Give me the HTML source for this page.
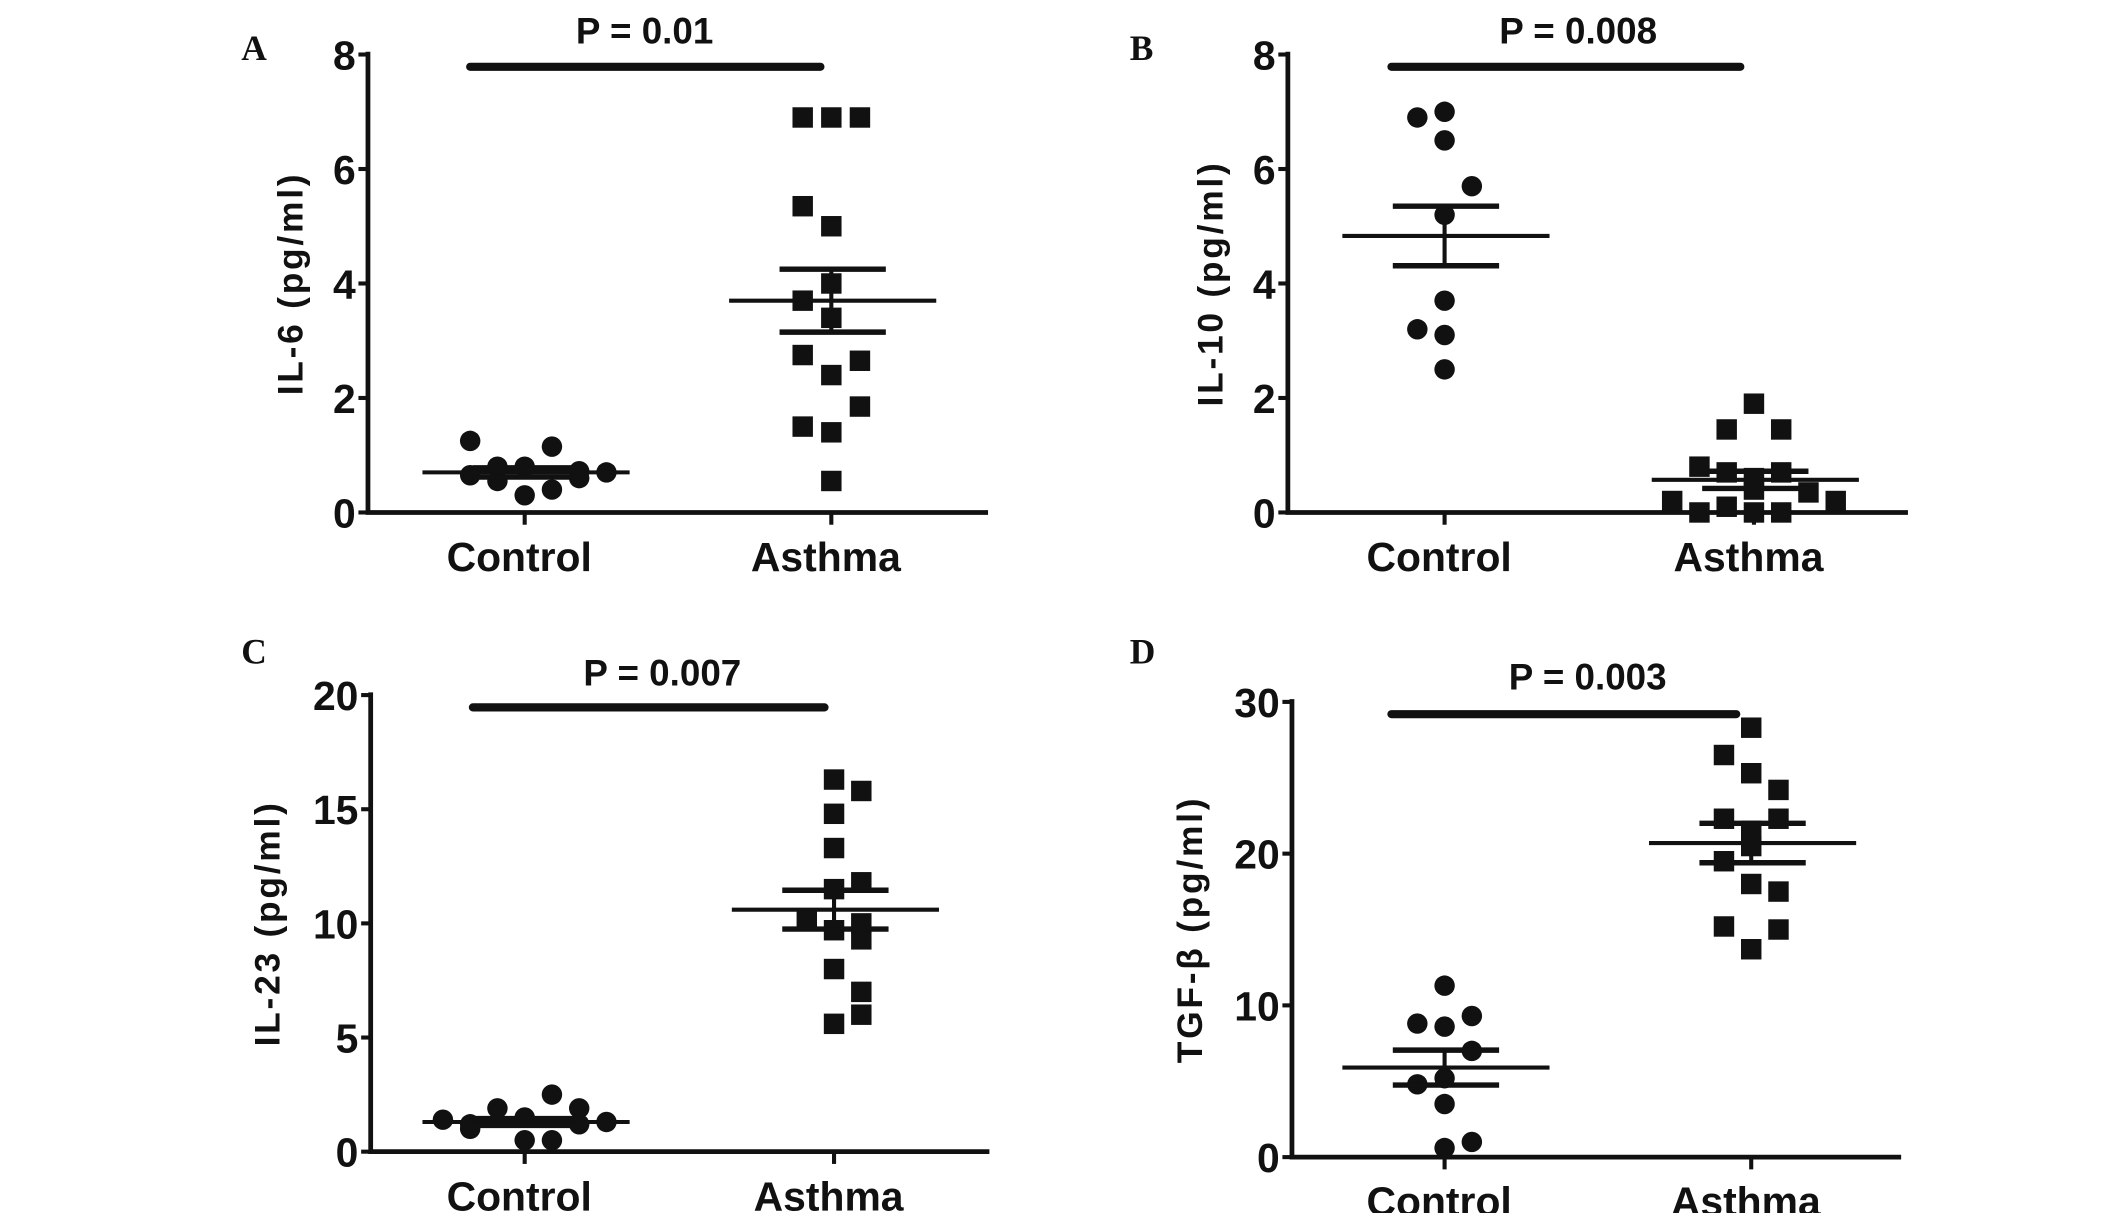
<!DOCTYPE html>
<html><head><meta charset="utf-8">
<style>
html,body{margin:0;padding:0;background:#fff;}
svg{display:block;}
text{font-family:"Liberation Sans",Arial,sans-serif;font-weight:bold;fill:#111;}
</style></head>
<body>
<svg id="fig" width="2126" height="1213" viewBox="0 0 1560 890" preserveAspectRatio="none" xmlns="http://www.w3.org/2000/svg"></svg>
<script>
// Panel A: IL-6
const aCtrl = [1.25,1.15,0.65,0.8,0.8,0.55,0.6,0.7,0.3,0.4,0.72];
const aCtrlJit = [-2,1,-2,-1,0,-1,2,3,0,1,2];
const aAsth = [6.9,6.9,6.9,5.35,5.0,4.0,3.7,3.4,2.75,2.65,2.4,1.85,1.5,1.4,0.55];
const aAsthJit = [-1,0,1,-1,0,0,-1,0,-1,1,0,1,-1,0,0];
const aStats = [0.7,0.08,3.7,0.55];
// Panel B: IL-10
const bCtrl = [6.9,7.0,6.5,5.7,5.2,3.7,3.2,3.1,2.5];
const bCtrlJit = [-1,0,0,1,0,0,-1,0,0];
const bAsth = [1.9,1.45,1.45,0.8,0.7,0.6,0.7,0.4,0.2,0.2,0.1,0.0,0.0,0.0,0.35];
const bAsthJit = [0,-1,1,-2,-1,0,1,0,-3,3,-1,-2,0,1,2];
const bStats = [4.83,0.52,0.57,0.15];
// Panel C: IL-23
const cCtrl = [2.5,1.9,1.9,1.4,1.2,0.5,0.5,1.3,1.0,1.5,1.2];
const cCtrlJit = [1,-1,2,-3,-2,0,1,3,-2,0,2];
const cAsth = [16.3,15.8,14.8,13.3,11.8,11.5,10.2,10.0,9.7,9.3,8.0,7.0,6.0,5.6];
const cAsthJit = [0,1,0,0,1,0,-1,1,0,1,0,1,1,0];
const cStats = [1.3,0.15,10.6,0.85];
// Panel D: TGF-beta
const dCtrl = [11.3,9.3,8.8,8.6,7.0,5.2,4.8,3.5,1.0,0.6];
const dCtrlJit = [0,1,-1,0,1,0,-1,0,1,0];
const dAsth = [28.3,26.5,25.3,24.2,22.3,22.3,20.5,18.0,17.5,15.2,15.0,13.7,19.5,21.5];
const dAsthJit = [0,-1,0,1,-1,1,0,0,1,-1,1,0,-1,0];
const dStats = [5.9,1.15,20.7,1.3];
const categories = ["Control","Asthma"];
const yTicksA = [0,2,4,6,8], yTicksC = [0,5,10,15,20], yTicksD = [0,10,20,30];

const NS="http://www.w3.org/2000/svg";
const svg=document.getElementById('fig');
function mk(tag,attrs,parent){const e=document.createElementNS(NS,tag);for(const k in attrs)e.setAttribute(k,attrs[k]);(parent||svg).appendChild(e);return e;}

function panel(p){
  const g=mk('g',{});
  
  
  const y=v=>p.y0+(p.yTop-p.y0)*v/p.max;
  const ax=mk('path',{d:`M${p.ax} ${p.yTop-2} L${p.ax} ${p.y0} L${p.xEnd} ${p.y0}`,stroke:'#111','stroke-width':3.5,fill:'none'},g);
  
  
  p.ticks.forEach(t=>{
    mk('line',{x1:p.ax-7,x2:p.ax,y1:y(t),y2:y(t),stroke:'#111','stroke-width':3},g);
    const tx=mk('text',{x:p.ax-9,y:y(t)+11,'text-anchor':'end','font-size':30},g);
    tx.textContent=t;
    
    
  });
  [p.cx0,p.cx1].forEach((cx,i)=>{
    mk('line',{x1:cx,x2:cx,y1:p.y0,y2:p.y0+9,stroke:'#111','stroke-width':3},g);
    const tx=mk('text',{x:cx-4,y:p.y0+43,'text-anchor':'middle','font-size':30,'font-weight':'bold'},g);
    tx.textContent=categories[i];
    
    
  });
  const yt=mk('text',{x:0,y:0,'text-anchor':'middle','font-size':26,'letter-spacing':2,transform:`translate(${p.titleX},${(p.yTop+p.y0)/2}) rotate(-90)`},g);
  yt.textContent=p.title;
  
  
  const pl=mk('text',{x:p.lx,y:p.ly,'font-size':26,style:'font-family:"Liberation Serif",serif'},g);
  pl.textContent=p.id;
  
  
  const pt=mk('text',{x:p.pcx,y:p.py,'text-anchor':'middle','font-size':27},g);
  pt.textContent=p.ptext;
  
  
  const br=mk('line',{x1:p.b0,x2:p.b1,y1:p.by,y2:p.by,stroke:'#111','stroke-width':6,'stroke-linecap':'round'},g);
  
  
  p.ctrl.forEach((v,i)=>{
    const c=mk('circle',{cx:p.cx0+p.cj[i]*p.sp,cy:y(v),r:7.5,fill:'#111'},g);
    
    
  });
  p.asth.forEach((v,i)=>{
    const s=mk('rect',{x:p.cx1+p.aj[i]*p.sp2-7.5,y:y(v)-7.5,width:15,height:15,fill:'#111'},g);
    
    
  });
  const st=p.stats;
  [[p.cx0,st[0],st[1]],[p.cx1,st[2],st[3]]].forEach(([cx,m,s])=>{
    const ml=mk('line',{x1:cx-75,x2:cx+77,y1:y(m),y2:y(m),stroke:'#111','stroke-width':3},g);
    
    
    mk('line',{x1:cx,x2:cx,y1:y(m+s),y2:y(m-s),stroke:'#111','stroke-width':3},g);
    [m+s,m-s].forEach(v=>{
      const e=mk('line',{x1:cx-38,x2:cx+40,y1:y(v),y2:y(v),stroke:'#111','stroke-width':4},g);
      
      
    });
  });
}
panel({id:'A',ax:270,yTop:40,y0:376,xEnd:725,max:8,ticks:yTicksA,cx0:385,cx1:610,title:'IL-6 (pg/ml)',titleX:222,lx:177,ly:44,ptext:'P = 0.01',pcx:473,py:32,b0:345,b1:602,by:49,ctrl:aCtrl,cj:aCtrlJit,asth:aAsth,aj:aAsthJit,sp:20,sp2:21,stats:aStats});
panel({id:'B',ax:945,yTop:40,y0:376,xEnd:1400,max:8,ticks:yTicksA,cx0:1060,cx1:1287,title:'IL-10 (pg/ml)',titleX:897,lx:829,ly:44,ptext:'P = 0.008',pcx:1158,py:32,b0:1021,b1:1277,by:49,ctrl:bCtrl,cj:bCtrlJit,asth:bAsth,aj:bAsthJit,sp:20,sp2:20,stats:bStats});
panel({id:'C',ax:272,yTop:510,y0:845,xEnd:726,max:20,ticks:yTicksC,cx0:385,cx1:612,title:'IL-23 (pg/ml)',titleX:205,lx:177,ly:487,ptext:'P = 0.007',pcx:486,py:503,b0:347,b1:605,by:519,ctrl:cCtrl,cj:cCtrlJit,asth:cAsth,aj:cAsthJit,sp:20,sp2:20,stats:cStats});
panel({id:'D',ax:948,yTop:515,y0:849,xEnd:1395,max:30,ticks:yTicksD,cx0:1060,cx1:1285,title:'TGF-β (pg/ml)',titleX:882,lx:829,ly:487,ptext:'P = 0.003',pcx:1165,py:506,b0:1021,b1:1274,by:524,ctrl:dCtrl,cj:dCtrlJit,asth:dAsth,aj:dAsthJit,sp:20,sp2:20,stats:dStats});
</script>
</body></html>
